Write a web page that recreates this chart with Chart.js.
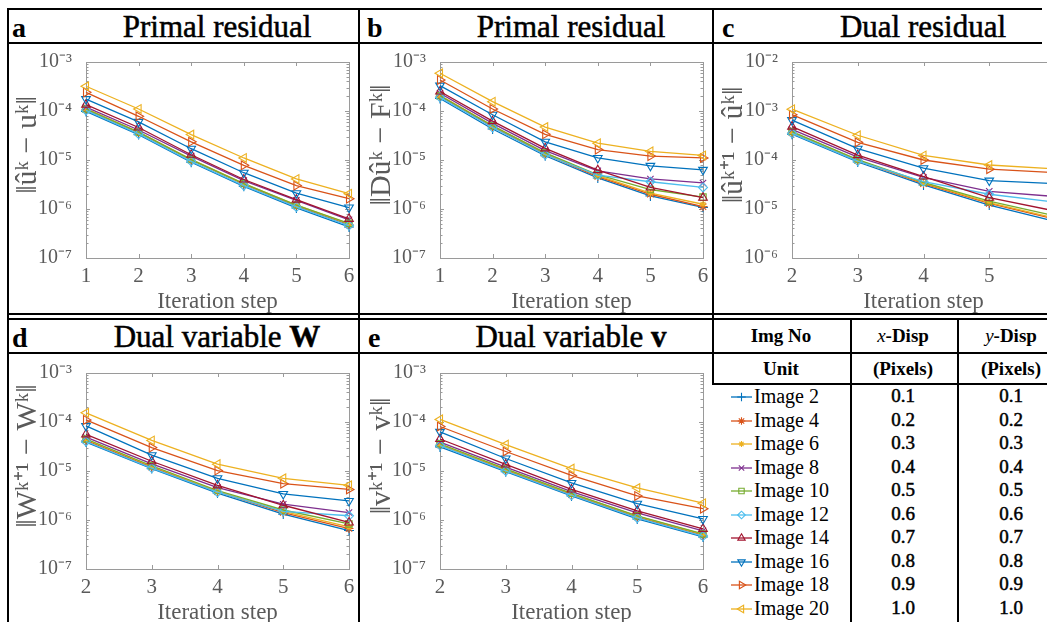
<!DOCTYPE html>
<html>
<head>
<meta charset="utf-8">
<script src="https://cdn.jsdelivr.net/npm/chart.js"></script>
<style>
html, body { margin: 0; padding: 0; background: #fff; }
#fig { position: relative; width: 1047px; height: 622px; overflow: hidden; font-family: "Liberation Serif", serif; color: #000; }
#fig canvas { position: absolute; }
.ln { position: absolute; background: #000; z-index: 5; }
.letter { position: absolute; font-weight: bold; font-size: 28px; line-height: 28px; }
.ttl { position: absolute; width: 320px; text-align: center; font-size: 31px; line-height: 31px; white-space: nowrap; -webkit-text-stroke: 0.5px #000; }
.th { position: absolute; text-align: center; font-weight: bold; font-size: 19px; line-height: 19px; white-space: nowrap; }
.leg { position: absolute; font-size: 20px; line-height: 20px; white-space: nowrap; }
.num { position: absolute; width: 80px; text-align: center; font-size: 19px; line-height: 20px; -webkit-text-stroke: 0.5px #000; }
</style>
</head>
<body>
<div id="fig">
  <div class="letter" style="left:12px;top:14px">a</div>
  <div class="letter" style="left:367px;top:14px">b</div>
  <div class="letter" style="left:722px;top:14px">c</div>
  <div class="letter" style="left:12px;top:324px">d</div>
  <div class="letter" style="left:368px;top:324px">e</div>

  <div class="ttl" style="left:57px;top:11px">Primal residual</div>
  <div class="ttl" style="left:411px;top:11px">Primal residual</div>
  <div class="ttl" style="left:763px;top:11px">Dual residual</div>
  <div class="ttl" style="left:57px;top:321px">Dual variable <b>W</b></div>
  <div class="ttl" style="left:411px;top:321px">Dual variable <b>v</b></div>

  <div class="th" style="left:721px;width:120px;top:326px">Img No</div>
  <div class="th" style="left:853px;width:100px;top:326px"><i style="font-weight:normal">x</i>-Disp</div>
  <div class="th" style="left:961px;width:100px;top:326px"><i style="font-weight:normal">y</i>-Disp</div>
  <div class="th" style="left:721px;width:120px;top:359px">Unit</div>
  <div class="th" style="left:853px;width:100px;top:359px">(Pixels)</div>
  <div class="th" style="left:961px;width:100px;top:359px">(Pixels)</div>

  <canvas id="chartA" width="346" height="270" style="left:10px;top:44px"></canvas>
  <canvas id="chartB" width="346" height="270" style="left:364px;top:44px"></canvas>
  <canvas id="chartC" width="346" height="270" style="left:716px;top:44px"></canvas>
  <canvas id="chartD" width="346" height="270" style="left:10px;top:355px"></canvas>
  <canvas id="chartE" width="346" height="270" style="left:364px;top:355px"></canvas>

  <div class="ln" style="left:7px;top:8px;width:1035px;height:1.5px"></div>
  <div class="ln" style="left:7px;top:42px;width:1035px;height:1.5px"></div>
  <div class="ln" style="left:7px;top:313px;width:1040px;height:1.5px"></div>
  <div class="ln" style="left:7px;top:318px;width:1040px;height:1.5px"></div>
  <div class="ln" style="left:7px;top:352px;width:1040px;height:1.5px"></div>
  <div class="ln" style="left:712px;top:383px;width:335px;height:1.5px"></div>
  <div class="ln" style="left:7px;top:8px;width:1.5px;height:614px"></div>
  <div class="ln" style="left:358px;top:8px;width:1.5px;height:614px"></div>
  <div class="ln" style="left:712px;top:8px;width:1.5px;height:376px"></div>
  <div class="ln" style="left:850px;top:318px;width:1.5px;height:304px"></div>
  <div class="ln" style="left:957px;top:318px;width:1.5px;height:304px"></div>
</div>

<script>
// iteration steps on the x axis
var stepsA = [1, 2, 3, 4, 5, 6];
var stepsC = [2, 3, 4, 5, 6];

var imageNames = ["Image 2", "Image 4", "Image 6", "Image 8", "Image 10", "Image 12", "Image 14", "Image 16", "Image 18", "Image 20"];
var xDisp = ["0.1", "0.2", "0.3", "0.4", "0.5", "0.6", "0.7", "0.8", "0.9", "1.0"];
var yDisp = ["0.1", "0.2", "0.3", "0.4", "0.5", "0.6", "0.7", "0.8", "0.9", "1.0"];

var decadesLow = [1e-7, 1e-6, 1e-5, 1e-4, 1e-3];
var decadesC = [1e-6, 1e-5, 1e-4, 1e-3, 1e-2];

// a: ||u^k - u^k||, one row per image
var primalU = [
  [9.8e-5, 3.3e-5, 9.0e-6, 2.9e-6, 1.05e-6, 4.3e-7],
  [1.08e-4, 3.6e-5, 1.0e-5, 3.2e-6, 1.15e-6, 4.8e-7],
  [1.12e-4, 3.7e-5, 1.03e-5, 3.3e-6, 1.2e-6, 5.0e-7],
  [1.2e-4, 4.1e-5, 1.2e-5, 3.8e-6, 1.5e-6, 6.0e-7],
  [1.1e-4, 3.7e-5, 1.02e-5, 3.3e-6, 1.2e-6, 5.1e-7],
  [1.03e-4, 3.4e-5, 9.4e-6, 3.0e-6, 1.1e-6, 4.6e-7],
  [1.35e-4, 4.6e-5, 1.28e-5, 4.0e-6, 1.55e-6, 6.3e-7],
  [1.75e-4, 6.0e-5, 1.7e-5, 5.5e-6, 2.1e-6, 1.07e-6],
  [2.4e-4, 7.8e-5, 2.35e-5, 7.8e-6, 3.0e-6, 1.62e-6],
  [3.2e-4, 1.1e-4, 3.3e-5, 1.1e-5, 4.1e-6, 2.05e-6]
];

// b: ||Du^k - F^k||
var primalDF = [
  [1.8e-4, 4.3e-5, 1.22e-5, 4.3e-6, 1.85e-6, 1.08e-6],
  [2.0e-4, 4.8e-5, 1.32e-5, 4.6e-6, 2.0e-6, 1.12e-6],
  [2.1e-4, 5.0e-5, 1.38e-5, 4.8e-6, 2.1e-6, 1.25e-6],
  [2.3e-4, 5.6e-5, 1.55e-5, 6.0e-6, 4.1e-6, 3.4e-6],
  [2.05e-4, 5.0e-5, 1.4e-5, 5.0e-6, 2.5e-6, 1.75e-6],
  [1.9e-4, 4.6e-5, 1.28e-5, 4.9e-6, 3.6e-6, 2.75e-6],
  [2.5e-4, 6.2e-5, 1.73e-5, 6.2e-6, 2.75e-6, 1.7e-6],
  [3.3e-4, 8.4e-5, 2.35e-5, 1.1e-5, 7.6e-6, 6.3e-6],
  [4.3e-4, 1.1e-4, 3.35e-5, 1.63e-5, 1.2e-5, 1.1e-5],
  [5.9e-4, 1.55e-4, 4.7e-5, 2.2e-5, 1.5e-5, 1.24e-5]
];

// c: ||u^k+1 - u^k||
var dualU = [
  [3.35e-4, 9.1e-5, 3.1e-5, 1.2e-5, 5.6e-6],
  [3.6e-4, 9.8e-5, 3.3e-5, 1.3e-5, 6.2e-6],
  [3.7e-4, 1.0e-4, 3.4e-5, 1.35e-5, 6.5e-6],
  [4.2e-4, 1.15e-4, 4.4e-5, 2.3e-5, 1.8e-5],
  [3.8e-4, 1.02e-4, 3.5e-5, 1.45e-5, 7.2e-6],
  [3.5e-4, 9.5e-5, 3.6e-5, 2.0e-5, 1.38e-5],
  [4.8e-4, 1.26e-4, 4.6e-5, 1.7e-5, 9.1e-6],
  [6.5e-4, 1.7e-4, 6.8e-5, 3.8e-5, 3.3e-5],
  [8.4e-4, 2.3e-4, 1.0e-4, 6.5e-5, 5.5e-5],
  [1.09e-3, 3.2e-4, 1.24e-4, 7.9e-5, 6.6e-5]
];

// d: ||W^k+1 - W^k||
var dualW = [
  [3.9e-5, 1.12e-5, 3.55e-6, 1.32e-6, 6.1e-7],
  [4.2e-5, 1.2e-5, 3.8e-6, 1.42e-6, 6.7e-7],
  [4.4e-5, 1.25e-5, 3.9e-6, 1.5e-6, 7.2e-7],
  [4.9e-5, 1.4e-5, 4.6e-6, 2.1e-6, 1.42e-6],
  [4.5e-5, 1.28e-5, 4.0e-6, 1.6e-6, 8.3e-7],
  [4.0e-5, 1.15e-5, 3.7e-6, 1.5e-6, 1.22e-6],
  [5.6e-5, 1.58e-5, 5.1e-6, 2.0e-6, 8.9e-7],
  [8.3e-5, 2.1e-5, 7.1e-6, 3.4e-6, 2.45e-6],
  [1.1e-4, 3.0e-5, 1.02e-5, 5.5e-6, 4.2e-6],
  [1.54e-4, 4.2e-5, 1.38e-5, 7.1e-6, 5.1e-6]
];

// e: ||v^k+1 - v^k||
var dualV = [
  [3.1e-5, 9.7e-6, 3.1e-6, 1.05e-6, 4.5e-7],
  [3.4e-5, 1.05e-5, 3.3e-6, 1.15e-6, 4.9e-7],
  [3.5e-5, 1.08e-5, 3.4e-6, 1.2e-6, 5.1e-7],
  [3.9e-5, 1.2e-5, 3.8e-6, 1.4e-6, 6.0e-7],
  [3.6e-5, 1.1e-5, 3.5e-6, 1.22e-6, 5.2e-7],
  [3.3e-5, 1.0e-5, 3.2e-6, 1.1e-6, 4.7e-7],
  [4.5e-5, 1.36e-5, 4.2e-6, 1.54e-6, 6.6e-7],
  [6.3e-5, 1.8e-5, 5.7e-6, 2.15e-6, 1.05e-6],
  [8.1e-5, 2.5e-5, 8.1e-6, 3.1e-6, 1.7e-6],
  [1.13e-4, 3.46e-5, 1.12e-5, 4.5e-6, 2.2e-6]
];

// styles (MATLAB default colour order + markers)
var lineColors = ["#0072BD", "#D95319", "#EDB120", "#7E2F8E", "#77AC30", "#4DBEEE", "#A2142F", "#0072BD", "#D95319", "#EDB120"];
var markerStyles = ["cross", "star", "star", "crossRot", "rect", "rectRot", "triangle", "triangle", "triangle", "triangle"];
var markerRotation = [0, 0, 0, 0, 0, 0, 0, 180, 90, 270];
var markerRadius = [5, 4.5, 3.5, 4.5, 4.5, 4.5, 5, 5, 5, 5];

var serif = "'Liberation Serif', serif";
var tickGray = "#5a5a5a";
var boxGray = "#9a9a9a";

var supers = {"-": "\u207B", "0": "\u2070", "1": "\u00B9", "2": "\u00B2", "3": "\u00B3", "4": "\u2074", "5": "\u2075", "6": "\u2076", "7": "\u2077", "8": "\u2078", "9": "\u2079"};
function powLabel(v) {
  var e = String(Math.round(Math.log10(v)));
  var s = "";
  for (var i = 0; i < e.length; i++) s += supers[e[i]];
  return "10" + s;
}

// axes box with inward ticks like matlab
var boxTicks = {
  id: "boxTicks",
  beforeDatasetsDraw: function(chart) {
    var ctx = chart.ctx, a = chart.chartArea, x = chart.scales.x, y = chart.scales.y;
    ctx.save();
    ctx.strokeStyle = boxGray;
    ctx.lineWidth = 1;
    ctx.strokeRect(a.left + 0.5, a.top + 0.5, a.right - a.left, a.bottom - a.top);
    ctx.beginPath();
    x.ticks.forEach(function(t) {
      var px = Math.round(x.getPixelForValue(t.value)) + 0.5;
      ctx.moveTo(px, a.bottom); ctx.lineTo(px, a.bottom - 4);
      ctx.moveTo(px, a.top); ctx.lineTo(px, a.top + 4);
    });
    y.ticks.forEach(function(t) {
      var py = Math.round(y.getPixelForValue(t.value)) + 0.5;
      ctx.moveTo(a.left, py); ctx.lineTo(a.left + 4, py);
      ctx.moveTo(a.right, py); ctx.lineTo(a.right - 4, py);
      for (var m = 2; m < 10; m++) {
        var v = t.value * m;
        if (v >= y.max) break;
        var q = Math.round(y.getPixelForValue(v)) + 0.5;
        ctx.moveTo(a.left, q); ctx.lineTo(a.left + 2.5, q);
        ctx.moveTo(a.right, q); ctx.lineTo(a.right - 2.5, q);
      }
    });
    ctx.stroke();
    ctx.restore();
  }
};

function makePanel(id, steps, rows, decades, yLabel) {
  var sets = [];
  for (var i = 0; i < rows.length; i++) {
    var pts = [];
    for (var j = 0; j < steps.length; j++) pts.push({x: steps[j], y: rows[i][j]});
    sets.push({
      label: imageNames[i],
      data: pts,
      order: rows.length - i,
      borderColor: lineColors[i],
      backgroundColor: "rgba(0,0,0,0)",
      borderWidth: 1.3,
      pointStyle: markerStyles[i],
      pointRotation: markerRotation[i],
      pointRadius: markerRadius[i],
      pointBorderColor: lineColors[i],
      pointBackgroundColor: "rgba(0,0,0,0)",
      pointBorderWidth: 1.1,
      tension: 0,
      clip: false
    });
  }
  new Chart(document.getElementById(id), {
    type: "line",
    data: {datasets: sets},
    options: {
      responsive: false,
      animation: false,
      events: [],
      layout: {padding: {top: 14, right: 7, left: 0, bottom: 0}},
      plugins: {legend: {display: false}, tooltip: {enabled: false}},
      scales: {
        x: {
          type: "linear", min: steps[0], max: 6,
          grid: {display: false}, border: {display: false},
          ticks: {stepSize: 1, padding: -2, color: tickGray, font: {family: serif, size: 21}},
          title: {display: true, text: "Iteration step", color: tickGray, font: {family: serif, size: 23}, padding: {top: 0, bottom: -2}},
          afterFit: function(s) { s.height = 56; }
        },
        y: {
          type: "logarithmic", min: decades[0], max: decades[decades.length - 1],
          grid: {display: false}, border: {display: false},
          afterBuildTicks: function(s) { s.ticks = decades.map(function(v) { return {value: v}; }); },
          ticks: {padding: 6, color: tickGray, font: {family: serif, size: 20}, callback: function(v) { return powLabel(v); }},
          title: {display: true, text: yLabel, color: tickGray, font: {family: serif, size: 30}, padding: {top: 0, bottom: 0}},
          afterFit: function(s) { s.width = 76; }
        }
      }
    },
    plugins: [boxTicks]
  });
}

// leading spaces lift the rotated label a bit, as in the original
var lift = "\u2002\u2002";
makePanel("chartA", stepsA, primalU, decadesLow, lift + "\u2016\u00FB\u1D4F \u2212 u\u1D4F\u2016");
makePanel("chartB", stepsA, primalDF, decadesLow, lift + "\u2016D\u00FB\u1D4F \u2212 F\u1D4F\u2016");
makePanel("chartC", stepsC, dualU, decadesC, lift + "\u2016\u00FB\u1D4F\u207A\u00B9 \u2212 \u00FB\u1D4F\u2016");
makePanel("chartD", stepsC, dualW, decadesLow, lift + "\u2016W\u1D4F\u207A\u00B9 \u2212 W\u1D4F\u2016");
makePanel("chartE", stepsC, dualV, decadesLow, lift + "\u2016v\u1D4F\u207A\u00B9 \u2212 v\u1D4F\u2016");

// legend rows of the table
var fig = document.getElementById("fig");
for (var i = 0; i < imageNames.length; i++) {
  var base = 386 + i * 23.55;
  var c = document.createElement("canvas");
  c.width = 26; c.height = 20;
  c.style.left = "728px"; c.style.top = (base + 1) + "px";
  fig.appendChild(c);
  var g = c.getContext("2d");
  g.strokeStyle = lineColors[i];
  g.lineWidth = 1.3;
  g.beginPath(); g.moveTo(3, 10); g.lineTo(24, 10); g.stroke();
  if (Chart.helpers && Chart.helpers.drawPoint) {
    g.lineWidth = 1.1;
    g.fillStyle = "rgba(0,0,0,0)";
    Chart.helpers.drawPoint(g, {pointStyle: markerStyles[i], rotation: markerRotation[i], radius: markerRadius[i] * 0.85, borderWidth: 1.1}, 13.5, 10);
  }
  var t = document.createElement("div");
  t.className = "leg";
  t.style.left = "754px"; t.style.top = base + "px";
  t.textContent = imageNames[i];
  fig.appendChild(t);
  var n1 = document.createElement("div");
  n1.className = "num";
  n1.style.left = "863px"; n1.style.top = base + "px";
  n1.textContent = xDisp[i];
  fig.appendChild(n1);
  var n2 = document.createElement("div");
  n2.className = "num";
  n2.style.left = "971px"; n2.style.top = base + "px";
  n2.textContent = yDisp[i];
  fig.appendChild(n2);
}
</script>
</body>
</html>
